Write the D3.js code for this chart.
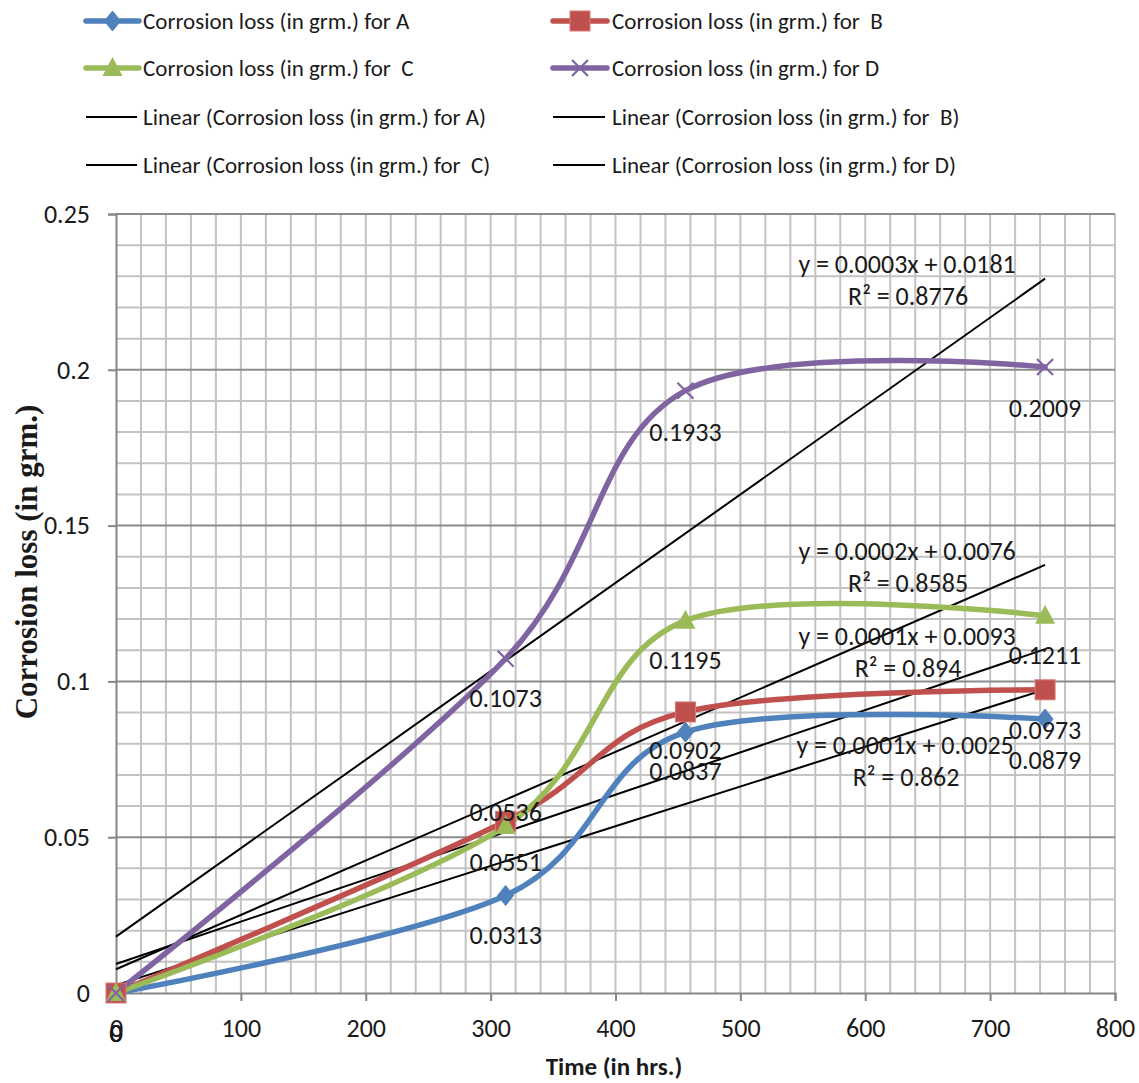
<!DOCTYPE html>
<html>
<head>
<meta charset="utf-8">
<script src="https://cdn.jsdelivr.net/npm/d3@7"></script>
<style>
  html, body { margin: 0; padding: 0; background: #fff; }
  svg { display: block; }
  text { font-family: Carlito, Lato, "Open Sans", sans-serif; fill: #1a1a1a; white-space: pre; }
</style>
</head>
<body>
<svg id="chart" width="1139" height="1083"></svg>
<script>
// ---------------- data ----------------
const hours = [0, 312, 456, 744];
const lossA = [0, 0.0313, 0.0837, 0.0879];
const lossB = [0, 0.0551, 0.0902, 0.0973];
const lossC = [0, 0.0536, 0.1195, 0.1211];
const lossD = [0, 0.1073, 0.1933, 0.2009];
const seriesNames = [
  "Corrosion loss (in grm.) for A",
  "Corrosion loss (in grm.) for  B",
  "Corrosion loss (in grm.) for  C",
  "Corrosion loss (in grm.) for D"
];
const trendNames = [
  "Linear (Corrosion loss (in grm.) for A)",
  "Linear (Corrosion loss (in grm.) for  B)",
  "Linear (Corrosion loss (in grm.) for  C)",
  "Linear (Corrosion loss (in grm.) for D)"
];
const trendEquations = ["y = 0.0001x + 0.0025", "y = 0.0001x + 0.0093", "y = 0.0002x + 0.0076", "y = 0.0003x + 0.0181"];
const trendR2 = ["R² = 0.862", "R² = 0.894", "R² = 0.8585", "R² = 0.8776"];
const xTicks = [0, 100, 200, 300, 400, 500, 600, 700, 800];
const yTicks = [0, 0.05, 0.1, 0.15, 0.2, 0.25];
const xTitle = "Time (in hrs.)";
const yTitle = "Corrosion loss (in grm.)";

// ---------------- styles ----------------
const colors = ["#4F81BD", "#C0504D", "#9BBB59", "#8064A2"];
const markerKinds = ["diamond", "square", "triangle", "cross"];
// label offsets (px) per series per point
const labelDy = [[40, 40, 39, 41], [40, 41, 38, 40], [40, -14, 39, 39], [40, 39, 41, 41]];
// equation label offsets from end of trend line
const eqOffset = [[-140, 55], [-138, -13], [-138, -14], [-138, -15]];

const svg = d3.select("#chart");
const x = d3.scaleLinear().domain([0, 800]).range([116, 1115]);
const y = d3.scaleLinear().domain([0, 0.25]).range([993, 214]);

const series = [lossA, lossB, lossC, lossD];
const FONT = "Carlito, Lato, sans-serif";

// ---------------- grid ----------------
const grid = svg.append("g");
const vLines = d3.range(20, 801, 20);
grid.selectAll("line.v").data(vLines).join("line")
  .attr("x1", d => x(d)).attr("x2", d => x(d))
  .attr("y1", y(0.25)).attr("y2", y(0))
  .attr("stroke", "#c3c3c3").attr("stroke-width", 2);
const hMinor = d3.range(1, 25).filter(i => i % 5 !== 0).map(i => i / 100);
grid.selectAll("line.hm").data(hMinor).join("line")
  .attr("x1", x(0)).attr("x2", x(800))
  .attr("y1", d => y(d)).attr("y2", d => y(d))
  .attr("stroke", "#c3c3c3").attr("stroke-width", 2);
grid.selectAll("line.hM").data(yTicks.slice(1)).join("line")
  .attr("x1", x(0)).attr("x2", x(800))
  .attr("y1", d => y(d)).attr("y2", d => y(d))
  .attr("stroke", "#8c8c8c").attr("stroke-width", 2);

// ---------------- axes ----------------
const xAxis = d3.axisBottom(x).tickValues(xTicks).tickSize(8).tickPadding(16).tickFormat(d3.format("d"));
const gx = svg.append("g").attr("transform", `translate(0,${y(0)})`).call(xAxis);
gx.select(".domain").attr("stroke", "#868686").attr("stroke-width", 2);
gx.selectAll(".tick line").attr("stroke", "#868686").attr("stroke-width", 2);
gx.selectAll(".tick text").attr("font-size", 26).attr("fill", "#1a1a1a")
  .attr("font-family", FONT).attr("dy", "0.35em").attr("y", 35);

const yAxis = d3.axisLeft(y).tickValues(yTicks).tickSize(8).tickPadding(16).tickFormat(d => String(+d.toFixed(2)));
const gy = svg.append("g").attr("transform", `translate(${x(0)},0)`).call(yAxis);
gy.select(".domain").attr("stroke", "#868686").attr("stroke-width", 2);
gy.selectAll(".tick line").attr("stroke", "#868686").attr("stroke-width", 2);
gy.selectAll(".tick text").attr("font-size", 26).attr("fill", "#1a1a1a")
  .attr("font-family", FONT).attr("x", -26);

// ---------------- trend lines ----------------
function linreg(xs, ys) {
  const mx = d3.mean(xs), my = d3.mean(ys);
  let sxy = 0, sxx = 0;
  xs.forEach((xi, i) => { sxy += (xi - mx) * (ys[i] - my); sxx += (xi - mx) ** 2; });
  const m = sxy / sxx;
  return { m, b: my - m * mx };
}
const trendG = svg.append("g");
series.forEach((vals) => {
  const r = linreg(hours, vals);
  const x0 = d3.min(hours), x1 = d3.max(hours);
  trendG.append("line")
    .attr("x1", x(x0)).attr("y1", y(r.m * x0 + r.b))
    .attr("x2", x(x1)).attr("y2", y(r.m * x1 + r.b))
    .attr("stroke", "#000").attr("stroke-width", 2);
});

// ---------------- series lines ----------------
const line = d3.line().x((d, i) => x(hours[i])).y(d => y(d)).curve(d3.curveCardinal.tension(0));
const lineG = svg.append("g");
series.forEach((vals, si) => {
  lineG.append("path").attr("d", line(vals))
    .attr("fill", "none").attr("stroke", colors[si]).attr("stroke-width", 5.5)
    .attr("stroke-linejoin", "round").attr("stroke-linecap", "round");
});

function drawMarker(g, kind, cx, cy, color) {
  if (kind === "diamond") {
    g.append("path").attr("d", `M${cx},${cy - 10}L${cx + 8},${cy}L${cx},${cy + 10}L${cx - 8},${cy}Z`)
      .attr("fill", color).attr("stroke", color).attr("stroke-width", 1);
  } else if (kind === "square") {
    g.append("rect").attr("x", cx - 10).attr("y", cy - 10).attr("width", 20).attr("height", 20)
      .attr("fill", color).attr("stroke", "#d77a77").attr("stroke-width", 1);
  } else if (kind === "triangle") {
    g.append("path").attr("d", `M${cx},${cy - 11}L${cx + 10},${cy + 8}L${cx - 10},${cy + 8}Z`)
      .attr("fill", color);
  } else {
    g.append("path").attr("d", `M${cx - 8},${cy - 8}L${cx + 8},${cy + 8}M${cx - 8},${cy + 8}L${cx + 8},${cy - 8}`)
      .attr("stroke", color).attr("stroke-width", 2.2).attr("fill", "none");
  }
}
const markG = svg.append("g");
series.forEach((vals, si) => {
  vals.forEach((v, i) => drawMarker(markG, markerKinds[si], x(hours[i]), y(v), colors[si]));
});

// ---------------- data labels ----------------
const labG = svg.append("g");
series.forEach((vals, si) => {
  vals.forEach((v, i) => {
    labG.append("text").attr("x", x(hours[i])).attr("y", y(v) + labelDy[si][i])
      .attr("text-anchor", "middle").attr("dominant-baseline", "central")
      .attr("font-size", 26).text(String(v));
  });
});

// ---------------- equation labels ----------------
const eqG = svg.append("g");
series.forEach((vals, si) => {
  const r = linreg(hours, vals);
  const xe = d3.max(hours);
  const px = x(xe) + eqOffset[si][0], py = y(r.m * xe + r.b) + eqOffset[si][1];
  eqG.append("text").attr("x", px).attr("y", py).attr("text-anchor", "middle")
    .attr("dominant-baseline", "central").attr("font-size", 26).text(trendEquations[si]);
  eqG.append("text").attr("x", px + 1).attr("y", py + 32).attr("text-anchor", "middle")
    .attr("dominant-baseline", "central").attr("font-size", 26).text(trendR2[si]);
});

// ---------------- axis titles ----------------
svg.append("text").attr("x", 614).attr("y", 1066).attr("text-anchor", "middle")
  .attr("dominant-baseline", "central").attr("font-size", 25).attr("font-weight", "bold")
  .text(xTitle);
svg.append("text").attr("transform", "translate(26,562) rotate(-90)")
  .attr("text-anchor", "middle").attr("dominant-baseline", "central")
  .attr("font-size", 31).attr("font-weight", "bold").style("font-family", "'Liberation Serif', 'DejaVu Serif', serif")
  .text(yTitle);

// ---------------- legend ----------------
const legend = svg.append("g");
const rowsY = [21, 68, 117, 165];
const colX = [[86, 139, 143], [553, 607, 612]];
const legendItems = [];
seriesNames.forEach((n, i) => legendItems.push({ name: n, kind: "series", si: i }));
trendNames.forEach((n, i) => legendItems.push({ name: n, kind: "trend", si: i }));
legendItems.forEach((it, k) => {
  const row = Math.floor(k / 2), col = k % 2;
  const [lx0, lx1, tx] = colX[col];
  const cy = rowsY[row];
  if (it.kind === "series") {
    legend.append("line").attr("x1", lx0).attr("x2", lx1).attr("y1", cy).attr("y2", cy)
      .attr("stroke", colors[it.si]).attr("stroke-width", 5.5).attr("stroke-linecap", "round");
    drawMarker(legend, markerKinds[it.si], (lx0 + lx1) / 2, cy, colors[it.si]);
  } else {
    legend.append("line").attr("x1", lx0).attr("x2", lx1 - 2).attr("y1", cy).attr("y2", cy)
      .attr("stroke", "#000").attr("stroke-width", 2);
  }
  legend.append("text").attr("x", tx).attr("y", cy).attr("dominant-baseline", "central")
    .attr("font-size", 23).text(it.name);
});
</script>
</body>
</html>
